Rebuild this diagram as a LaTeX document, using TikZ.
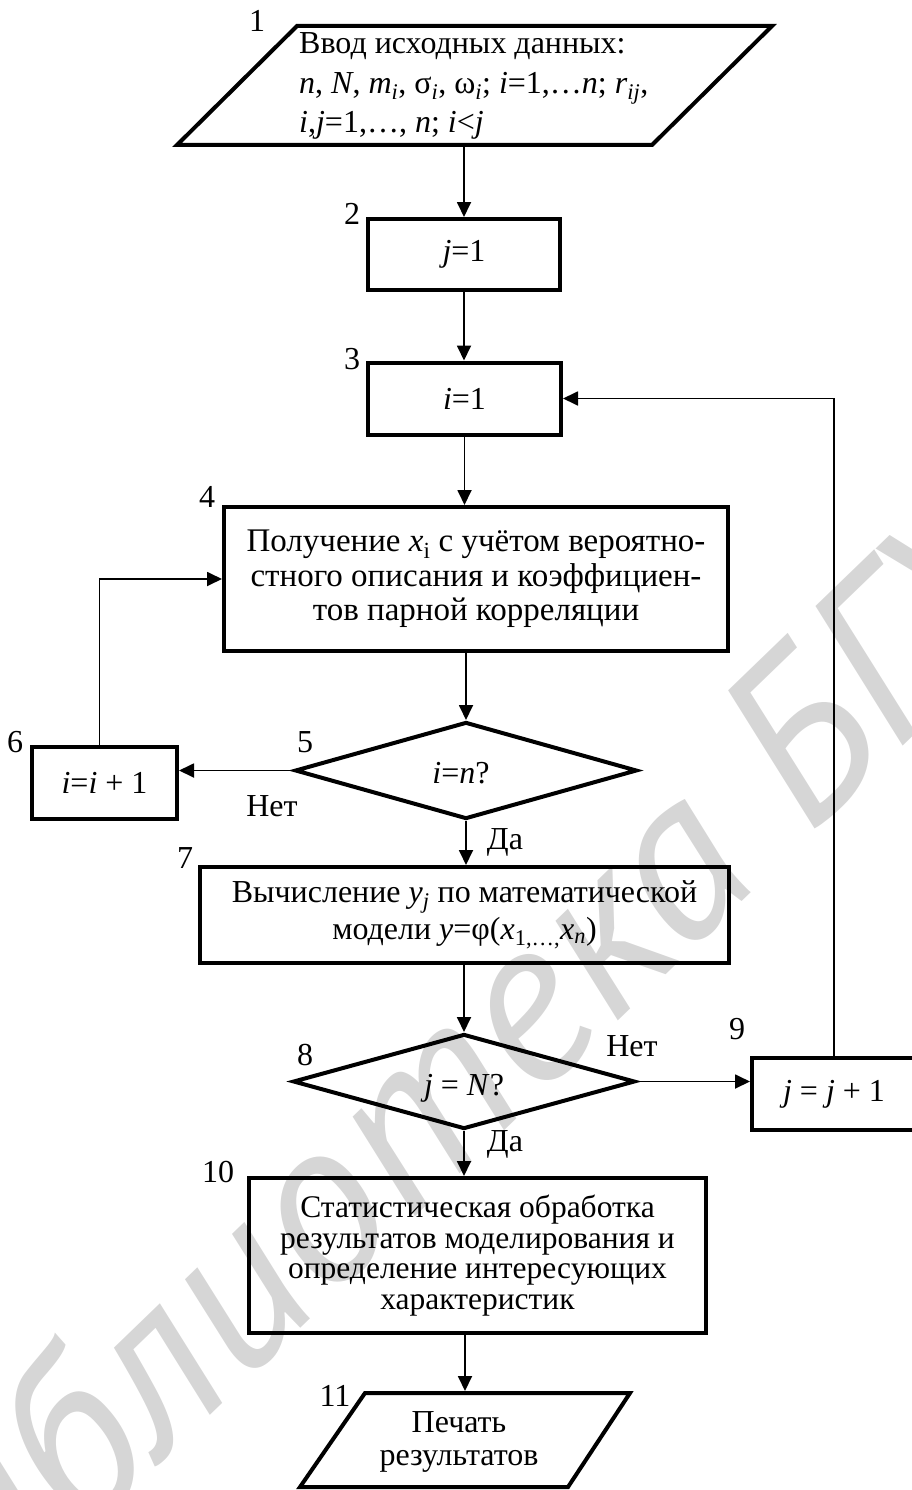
\documentclass[tikz,border=0pt]{standalone}
\usepackage{fontspec}
\setmainfont{Liberation Serif}
\newfontfamily\wmfont{PT Sans}
\usetikzlibrary{arrows.meta,shapes.geometric}

\newcommand\iv[1]{\textit{#1}}
\newcommand\sbi[1]{\textsubscript{\textit{#1}}}
\newcommand\fs[2]{\fontsize{#1pt}{#2pt}\selectfont}

\tikzset{
  x=1pt, y=-1pt,
  boxline/.style={draw, line width=4pt, line join=miter},
  block/.style={boxline, rectangle, inner sep=0pt, align=center},
  decision/.style={boxline, diamond, inner sep=0pt, align=center},
  shell/.style={rectangle, line width=4pt, inner sep=0pt},
  num/.style={font=\fs{32}{36}, inner sep=0pt},
  answer/.style={font=\fs{32}{36}, inner sep=0pt},
  flow/.style={line width=1.8pt, -{Triangle[length=15pt,width=14pt]}},
  every node/.append style={font=\fs{32}{36}}
}

\begin{document}
\begin{tikzpicture}
\useasboundingbox (0,0) rectangle (912,1490);

% library watermark
\node[rotate=44, anchor=base west, text=black!16, inner sep=0pt,
      font=\wmfont\itshape\fs{230}{230}] (wm) at (-90,1705) {Библиотека БГУИР};

% 1: input data
\draw[boxline] (297,26) -- (772,26) -- (652,145) -- (177,145) -- cycle;
\node[shell, minimum width=475pt, minimum height=119pt] (p1) at (474.5,85.5) {};
\node[anchor=west, align=left, inner sep=0pt, font=\fs{32}{39.5}] (p1text) at (299,86)
  {Ввод исходных данных:\\
   \iv{n}, \iv{N}, \iv{m}\sbi{i}, σ\sbi{i}, ω\sbi{i}; \iv{i}=1,…\iv{n}; \iv{r}\sbi{ij},\\
   \iv{i},\iv{j}=1,…, \iv{n}; \iv{i}<\iv{j}};

% 2, 3: loop counters
\node[block, minimum width=192pt, minimum height=71pt] (b2) at (464,254.5) {\iv{j}=1};
\node[block, minimum width=193pt, minimum height=72pt] (b3) at (464.5,398.5) {\iv{i}=1};

% 4: random values
\node[block, minimum width=504pt, minimum height=144pt, font=\fs{33}{34.5}] (b4) at (476,579)
  {Получение \iv{x}\textsubscript{i} с учётом вероятно-\\
   стного описания и коэффициен-\\
   тов парной корреляции};

% 5: inner loop test
\node[decision, minimum width=342pt, minimum height=97pt] (d5) at (466,770.5) {};
\node[inner sep=0pt] (d5text) at (461,773) {\iv{i}=\iv{n}?};

% 6: next i
\node[block, minimum width=145pt, minimum height=72pt] (b6) at (104.5,783) {\iv{i}=\iv{i} + 1};

% 7: model output
\node[block, minimum width=529pt, minimum height=96pt, font=\fs{32}{37}] (b7) at (464.5,915)
  {Вычисление \iv{y}\sbi{j} по математической\\
   модели \iv{y}=φ(\iv{x}\textsubscript{1,…,}\iv{x}\sbi{n})};

% 8: outer loop test
\node[decision, minimum width=342pt, minimum height=95pt] (d8) at (464,1081.5) {};
\node[inner sep=0pt] (d8text) at (464,1088) {\iv{j} = \iv{N}?};

% 9: next j
\node[block, minimum width=164pt, minimum height=72pt] (b9) at (834,1094) {\iv{j} = \iv{j} + 1};

% 10: statistics
\node[block, minimum width=457pt, minimum height=155pt, font=\fs{31.5}{30.5}] (b10) at (477.5,1255.5)
  {Статистическая обработка\\
   результатов моделирования и\\
   определение интересующих\\
   характеристик};

% 11: output
\draw[boxline] (365,1393) -- (630,1393) -- (568,1487) -- (300,1487) -- cycle;
\node[shell, minimum width=330pt, minimum height=94pt] (p11) at (465,1440) {};
\node[align=center, inner sep=0pt, font=\fs{32}{33}] (p11text) at (459,1442) {Печать\\результатов};

% block numbers
\node[num] (n1) at (257,21) {1};
\node[num] (n2) at (352,214) {2};
\node[num] (n3) at (352,359) {3};
\node[num] (n4) at (207,497) {4};
\node[num] (n5) at (305,742) {5};
\node[num] (n6) at (15,742) {6};
\node[num] (n7) at (185,858) {7};
\node[num] (n8) at (305,1055) {8};
\node[num] (n9) at (737,1029) {9};
\node[num] (n10) at (218,1172) {10};
\node[num] (n11) at (335,1396) {11};

% branch answers
\node[answer] (no5) at (272,806) {Нет};
\node[answer] (yes5) at (505,842) {Да};
\node[answer] (no8) at (632,1046) {Нет};
\node[answer] (yes8) at (505,1144) {Да};

% connectors
\draw[flow] (p1.south -| b2.north) -- (b2.north);
\draw[flow] (b2.south) -- (b2.south |- b3.north);
\draw[flow] (b3.south) -- (b3.south |- b4.north);
\draw[flow] (b4.south -| d5.north) -- (d5.north);
\draw[flow] (d5.west) -- (d5.west -| b6.east);
\draw[flow] ([xshift=-5pt]b6.north) |- (b4.west);
\draw[flow] (d5.south) -- (d5.south |- b7.north);
\draw[flow] (b7.south -| d8.north) -- (d8.north);
\draw[flow] (d8.east) -- (d8.east -| b9.west);
\draw[flow] (b9.north) |- (b3.east);
\draw[flow] (d8.south) -- (d8.south |- b10.north);
\draw[flow] (b10.south -| p11.north) -- (p11.north);
\end{tikzpicture}
\end{document}
